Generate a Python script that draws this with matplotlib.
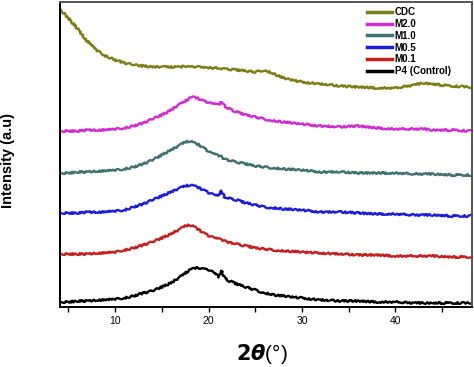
import numpy as np
import matplotlib
matplotlib.use("Agg")
import matplotlib.pyplot as plt
from matplotlib.ticker import MultipleLocator

plt.rcParams['font.family'] = ['Liberation Sans', 'DejaVu Sans']

theta = [4.2, 5, 6, 7, 8, 9, 10, 11, 12, 13, 14, 15, 16, 17, 17.5, 18, 18.5, 19, 19.5, 20,
         20.6, 21.1, 21.4, 21.7, 22, 23, 24, 25, 26, 27, 28, 30, 32, 34, 36, 38, 40, 42, 43, 44, 46, 48]

# values read as pixel depth from top of the plot (converted to intensity below)
cdc_depth = [10, 18, 29, 41, 50, 56, 60, 63, 65, 66, 67, 67, 67, 67, 66, 67, 67, 67, 68, 68,
             68, 68, 69, 69, 69, 70, 71, 72, 70, 74, 78, 82, 84, 86, 87, 88, 88, 85, 83, 84, 86, 87]
m20_depth = [131, 131, 131, 130, 130, 130, 129, 128, 126, 123, 119, 115, 110, 104, 101, 98, 97, 99, 101, 103,
             104, 105, 102, 106, 108, 112, 115, 117, 119, 121, 122, 124, 126, 127, 126, 128, 129, 129, 129, 130, 130, 131]
m10_depth = [173, 173, 172, 172, 171, 171, 170, 169, 167, 164, 160, 155, 150, 145, 142, 141, 143, 145, 148, 152,
             154, 156, 157, 159, 160, 162, 164, 166, 167, 168, 169, 170, 172, 172, 173, 173, 173, 174, 174, 174, 175, 175]
m05_depth = [213, 213, 213, 212, 212, 212, 211, 210, 207, 204, 200, 196, 192, 188, 186, 185, 186, 188, 190, 193,
             195, 196, 191, 197, 198, 200, 203, 205, 207, 208, 209, 210, 212, 212, 213, 214, 214, 215, 215, 215, 216, 216]
m01_depth = [254, 254, 254, 254, 253, 253, 252, 250, 248, 245, 242, 238, 234, 229, 226, 225, 227, 230, 233, 236,
             238, 239, 240, 241, 242, 244, 246, 248, 249, 250, 251, 252, 253, 254, 255, 255, 256, 256, 256, 256, 257, 257]
p4_depth = [302, 302, 301, 301, 300, 300, 299, 298, 296, 293, 291, 287, 283, 277, 273, 270, 268, 268, 269, 270,
            273, 277, 271, 278, 280, 284, 287, 290, 293, 295, 296, 298, 300, 301, 301, 302, 302, 303, 303, 303, 303, 303]

labels = ['CDC', 'M2.0', 'M1.0', 'M0.5', 'M0.1', 'P4 (Control)']
colors = ['#7d7d14', '#d42ad4', '#3f7272', '#1c1ce0', '#c81e1e', '#000000']
series = [cdc_depth, m20_depth, m10_depth, m05_depth, m01_depth, p4_depth]

TOP = 307.0

fig = plt.figure(figsize=(4.74, 3.67), dpi=100)
ax = fig.add_axes([60/474, 1-307/367, 412/474, 305/367])

th = np.array(theta)
for d, c, lab in zip(series, colors, labels):
    y = TOP - np.array(d, dtype=float)
    ln, = ax.plot(th, y, color=c, lw=1.7, label=lab)
    ln.set_sketch_params(scale=0.9, length=3, randomness=6)

ax.set_xlim(4.1, 48.2)
ax.set_ylim(0, 305)
ax.xaxis.set_major_locator(MultipleLocator(10))
ax.xaxis.set_minor_locator(MultipleLocator(5))
ax.set_yticks([])
ax.tick_params(axis='x', which='both', direction='out', length=3.5, width=1, labelsize=7.5, pad=3)
for s in ax.spines.values():
    s.set_linewidth(1.4)
ax.spines['right'].set_color('#555555')
ax.spines['top'].set_color('#555555')

ax.set_xlabel(r'$\mathbf{2}\boldsymbol{\theta}$(°)', fontsize=15)
ax.xaxis.set_label_coords(0.49, -0.115)
ax.set_ylabel('Intensity (a.u)', fontsize=10.5, fontweight='bold')
ax.yaxis.set_label_coords(-0.11, 0.48)

leg = ax.legend(loc='upper right', bbox_to_anchor=(0.965, 1.005), frameon=False,
                prop={'weight': 'bold', 'size': 7}, handlelength=2.6, handletextpad=0.25,
                labelspacing=0.18, borderaxespad=0.3)
for h in leg.legend_handles:
    h.set_linewidth(2.5)
    h.set_sketch_params(None)

fig.savefig('out.png', dpi=100)
